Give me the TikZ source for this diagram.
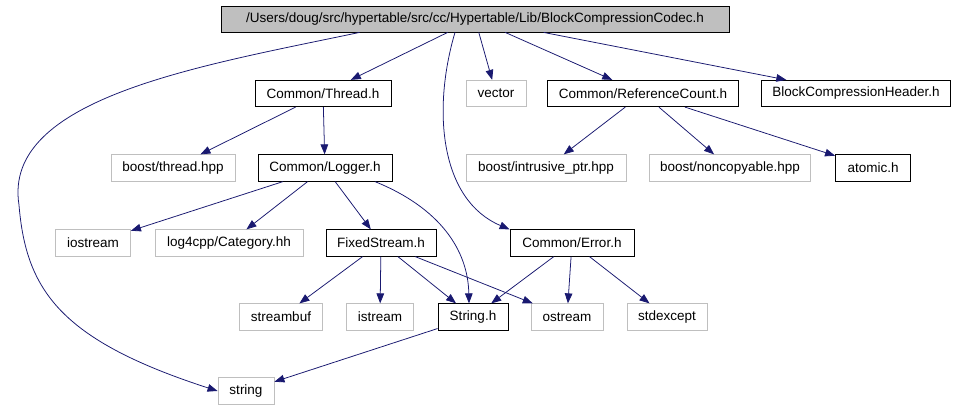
\documentclass[tikz,border=0pt]{standalone}
\usepackage{fontspec}
\setmainfont{Liberation Sans}
\usepackage{xcolor}
\usetikzlibrary{arrows.meta, positioning, calc}

\definecolor{edgeblue}{HTML}{191970}
\definecolor{boxgray}{HTML}{BFBFBF}

\begin{document}
\begin{tikzpicture}[
    x=0.025cm, y=-0.025cm,
    hdr/.style={rectangle, draw=black, line width=0.6pt, minimum height=0.66cm,
                inner sep=1pt, font=\fontsize{9.6}{11}\selectfont},
    ext/.style={hdr, draw=boxgray},
    top/.style={hdr, fill=boxgray, minimum height=0.65cm},
    dep/.style={-{Triangle[length=0.25cm,width=0.19cm]}, edgeblue, line width=0.55pt},
]
\useasboundingbox (0,0) rectangle (959,411);

% root file
\node[top, minimum width=12.7cm] (root) at (475,19)
    {/Users/doug/src/hypertable/src/cc/Hypertable/Lib/BlockCompressionCodec.h};

% first row
\node[hdr, minimum width=3.4cm]   (thread) at (323,93.5) {Common/Thread.h};
\node[ext, minimum width=1.5cm]   (vect)   at (496,93.5) {vector};
\node[hdr, minimum width=4.775cm] (refcnt) at (643,93.5) {Common/ReferenceCount.h};
\node[hdr, minimum width=4.725cm] (bchdr)  at (856,93.5) {BlockCompressionHeader.h};

% second row
\node[ext, minimum width=3.1cm]   (bthread)   at (173,168) {boost/thread.hpp};
\node[hdr, minimum width=3.35cm]  (logger)    at (325,168) {Common/Logger.h};
\node[ext, minimum width=4.0cm]   (intrusive) at (546,168) {boost/intrusive\_ptr.hpp};
\node[ext, minimum width=4.025cm] (noncopy)   at (730,168) {boost/noncopyable.hpp};
\node[hdr, minimum width=1.875cm] (atomic)    at (873,168) {atomic.h};

% third row
\node[ext, minimum width=1.875cm] (iostrm)   at (93,243)  {iostream};
\node[ext, minimum width=3.7cm]   (category) at (229,243) {log4cpp/Category.hh};
\node[hdr, minimum width=2.75cm]  (fixstrm)  at (381,243) {FixedStream.h};
\node[hdr, minimum width=3.1cm]   (error)    at (572,243) {Common/Error.h};

% fourth row
\node[ext, minimum width=2.075cm] (strbuf) at (281,317) {streambuf};
\node[ext, minimum width=1.675cm] (istrm)  at (380,317) {istream};
\node[hdr, minimum width=1.75cm]  (strh)   at (473,317) {String.h};
\node[ext, minimum width=1.8cm]   (ostrm)  at (567,317) {ostream};
\node[ext, minimum width=2.0cm]   (stdexc) at (667,317) {stdexcept};

% bottom
\node[ext, minimum width=1.4cm] (strg) at (246,391) {string};

% root includes
\draw[dep] ($(root.south west)+(139,0)$) .. controls (200,66) and (2,98) .. (19,205)
    .. controls (26,290) and (60,340) .. (strg.west);
\draw[dep] (root) -- (thread);
\draw[dep] (root) -- (vect);
\draw[dep] (root) -- (refcnt);
\draw[dep] (root) -- (bchdr);
\draw[dep] ($(root.south)+(-20,0)$) .. controls (432,110) and (440,200) .. (error.north west);

% Thread.h
\draw[dep] (thread) -- (bthread);
\draw[dep] (thread) -- (logger);

% ReferenceCount.h
\draw[dep] (refcnt) -- (intrusive);
\draw[dep] (refcnt) -- (noncopy);
\draw[dep] (refcnt) -- (atomic);

% Logger.h
\draw[dep] (logger) -- (iostrm);
\draw[dep] (logger) -- (category);
\draw[dep] (logger) -- (fixstrm);
\draw[dep] ($(logger.south)+(50,0)$) .. controls (440,208) and (468,250) .. ($(strh.north)+(-4,0)$);

% FixedStream.h
\draw[dep] (fixstrm) -- (strbuf);
\draw[dep] (fixstrm) -- (istrm);
\draw[dep] (fixstrm) -- (strh);
\draw[dep] (fixstrm) -- (ostrm);

% Error.h
\draw[dep] (error) -- (strh);
\draw[dep] (error) -- (ostrm);
\draw[dep] (error) -- (stdexc);

% String.h
\draw[dep] (strh) -- (strg);

\end{tikzpicture}
\end{document}
